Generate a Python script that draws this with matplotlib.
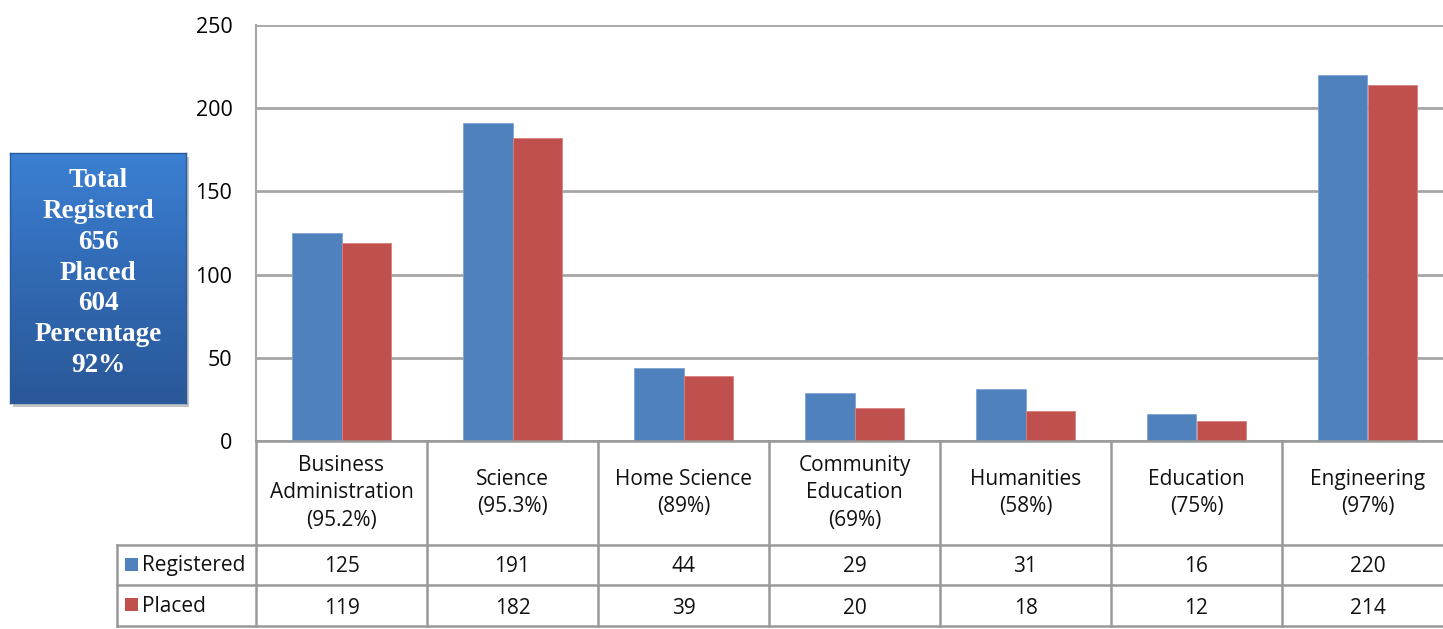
import matplotlib
matplotlib.use("Agg")
import matplotlib.pyplot as plt
import numpy as np
from matplotlib.patches import Rectangle
from matplotlib.colors import LinearSegmentedColormap

categories = ["Business\nAdministration\n(95.2%)", "Science\n(95.3%)", "Home Science\n(89%)",
              "Community\nEducation\n(69%)", "Humanities\n(58%)", "Education\n(75%)",
              "Engineering\n(97%)"]
registered = [125, 191, 44, 29, 31, 16, 220]
placed = [119, 182, 39, 20, 18, 12, 214]
series_names = ["Registered", "Placed"]
yticks = [0, 50, 100, 150, 200, 250]
summary_text = "Total\nRegisterd\n656\nPlaced\n604\nPercentage\n92%"

BLUE = "#4F81BD"
RED = "#C0504D"
GRID = "#a6a6a6"
FONT = "Open Sans"
FS = 15

W, H = 1443, 629
fig = plt.figure(figsize=(W / 100, H / 100), dpi=100)

def fx(px):
    return px / W

def fy(py):
    return 1 - py / H

colw = 171.0
ax_left, ax_top, ax_bot = 256, 25, 441
ax_right = ax_left + 7 * colw
ax = fig.add_axes([fx(ax_left), fy(ax_bot), fx(ax_right - ax_left), (ax_bot - ax_top) / H])
n = len(categories)
x = np.arange(n)
bw = 0.287
ax.bar(x - bw / 2, registered, bw, color=BLUE, edgecolor="#7ea3d3", linewidth=0.6, zorder=3)
ax.bar(x + bw / 2, placed, bw, color=RED, edgecolor="#d9807e", linewidth=0.6, zorder=3)
ax.set_xlim(-0.5, n - 0.5)
ax.set_ylim(0, 250)
ax.set_yticks(yticks)
ax.set_yticklabels([str(t) for t in yticks], fontsize=15.5, fontname=FONT)
ax.tick_params(axis="y", length=0, pad=17)
ax.set_xticks([])
ax.yaxis.grid(True, color=GRID, linewidth=2, zorder=0)
for s in ["top", "right", "bottom"]:
    ax.spines[s].set_visible(False)
ax.spines["left"].set_color(GRID)
ax.spines["left"].set_linewidth(1.5)

# table axes
t_left, t_top, t_bot = 117, 441, 626
tax = fig.add_axes([fx(t_left), fy(t_bot), fx(ax_right - t_left), (t_bot - t_top) / H])
xl = -0.5 - (ax_left - t_left) / colw
tax.set_xlim(xl, n - 0.5)
tax.set_ylim(t_bot, t_top)
tax.axis("off")
lc = "#999999"
lw = 1.8
tax.plot([-0.5, n - 0.5], [441, 441], color=lc, lw=lw, clip_on=False)
for yv in [545, 585, 626]:
    tax.plot([xl, n - 0.5], [yv, yv], color=lc, lw=lw, clip_on=False)
for i in range(n + 1):
    tax.plot([i - 0.5, i - 0.5], [441, 626], color=lc, lw=lw, clip_on=False)
tax.plot([xl, xl], [545, 626], color=lc, lw=lw, clip_on=False)

for i, c in enumerate(categories):
    tax.text(i, 493, c, ha="center", va="center", fontsize=FS, fontname=FONT,
             linespacing=1.4, color="#111111")
    tax.text(i, 567, str(registered[i]), ha="center", va="center", fontsize=FS, fontname=FONT, color="#111111")
    tax.text(i, 608, str(placed[i]), ha="center", va="center", fontsize=FS, fontname=FONT, color="#111111")

for yc, col, name in [(565, BLUE, series_names[0]), (605, RED, series_names[1])]:
    fig.patches.append(Rectangle((fx(125), fy(yc + 6)), fx(13), 13 / H, transform=fig.transFigure,
                                 facecolor=col, edgecolor="none"))
    fig.text(fx(142), fy(yc + 1), name, ha="left", va="center", fontsize=FS, fontname=FONT, color="#111111")

# summary box with gradient and shadow
bx0, by0, bx1, by1 = 10, 153, 186, 403
shadow = fig.add_axes([fx(bx0 + 3), fy(by1 + 4), fx(bx1 - bx0), (by1 - by0) / H], zorder=1)
shadow.set_facecolor("#c4c4c4")
shadow.set_xticks([]); shadow.set_yticks([])
for s in shadow.spines.values():
    s.set_visible(False)
bax = fig.add_axes([fx(bx0), fy(by1), fx(bx1 - bx0), (by1 - by0) / H], zorder=2)
cmap = LinearSegmentedColormap.from_list("g", ["#3b80d3", "#3169b3", "#2a5899"])
grad = np.linspace(0, 1, 256).reshape(-1, 1)
bax.imshow(grad, aspect="auto", cmap=cmap, extent=[0, 1, 0, 1], origin="upper")
bax.set_xlim(0, 1)
bax.set_ylim(0, 1)
bax.set_xticks([])
bax.set_yticks([])
for s in bax.spines.values():
    s.set_color("#2a5a9a")
    s.set_linewidth(1)
bax.text(0.5, 1 - (273 - by0) / (by1 - by0), summary_text, transform=bax.transAxes,
         ha="center", va="center", color="white",
         fontsize=19.5, fontweight="bold", fontname="Liberation Serif", linespacing=1.3)

fig.savefig("out.png", dpi=100)
